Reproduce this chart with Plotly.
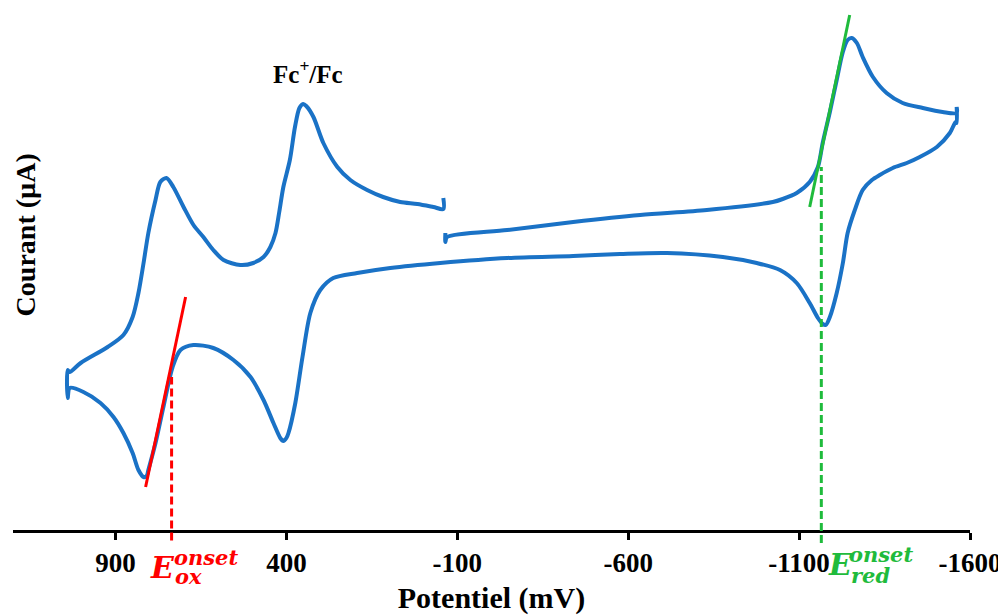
import plotly.graph_objects as go

# Potential (mV) and current (arbitrary µA units), in scan order
potential_mV = [
    # upper-left branch (oxidation side), from ~-60 mV towards +1040 mV
    -59, -59, -30, 17, 67, 117, 164, 213, 251, 292, 321, 342, 351, 362, 375, 390, 409, 421,
    432, 447, 467, 497, 535, 584, 614, 643, 672, 701, 731, 751, 769, 783, 804, 818, 833,
    850, 877, 923, 1002, 1034, 1040, 1040,
    # lower branch, from +1040 mV to -1560 mV
    1034, 994, 944, 906, 877, 850, 833, 818, 809, 804, 783, 760, 733, 710, 672, 614, 555,
    505, 467, 438, 418, 409, 400, 394, 374, 353, 330, 301, 263, 193, 96, -50, -246, -439,
    -576, -713, -877, -976, -1044, -1093, -1131, -1155, -1169, -1178, -1190, -1210, -1228,
    -1242, -1263, -1286, -1313, -1336, -1374, -1415, -1453, -1503, -1541, -1558, -1561, -1561,
    # upper-right branch, from -1560 mV back to ~-65 mV
    -1561, -1520, -1462, -1403, -1356, -1316, -1286, -1269, -1254, -1242, -1228, -1210,
    -1190, -1169, -1155, -1131, -1093, -1052, -1023, -830, -635, -439, -246, -70, -65, -65,
]
current_uA = [
    33.2, 32.1, 32.3, 32.6, 32.8, 33.3, 34.0, 35.0, 36.3, 38.7, 41.3, 42.4, 42.6, 42.2, 40.3,
    37.0, 34.3, 31.8, 29.7, 28.3, 27.3, 26.7, 26.5, 27.0, 28.0, 29.3, 30.5, 32.3, 34.3, 35.2,
    34.8, 33.0, 29.7, 26.7, 23.7, 21.3, 19.5, 18.3, 16.7, 15.8, 16.0, 13.2,
    14.2, 13.8, 12.7, 11.3, 9.7, 7.7, 6.0, 5.3, 5.4, 6.0, 8.7, 12.3, 16.3, 18.0, 18.5, 18.2,
    17.0, 15.3, 13.0, 10.7, 9.2, 8.9, 9.2, 9.7, 12.7, 17.3, 21.7, 24.0, 25.2, 25.7, 26.2,
    26.7, 27.2, 27.4, 27.6, 27.7, 27.3, 26.7, 26.0, 24.7, 22.7, 21.2, 20.6, 20.5, 21.3, 23.7,
    26.7, 29.7, 32.0, 34.0, 35.0, 35.5, 36.2, 36.7, 37.3, 38.3, 39.7, 40.8, 40.7, 42.3,
    41.7, 41.8, 42.2, 42.7, 43.7, 45.3, 47.3, 48.7, 49.2, 49.0, 47.8, 45.0, 41.8, 38.7, 36.3,
    34.8, 33.7, 33.1, 32.8, 32.0, 31.5, 30.8, 30.0, 29.3, 28.8, 29.7,
]

# Onset construction lines
ox_tangent_mV = [812, 695]
ox_tangent_uA = [4.3, 23.3]
ox_onset_mV = 736
ox_onset_top_uA = 15.3
red_tangent_mV = [-1131, -1248]
red_tangent_uA = [32.3, 51.5]
red_onset_mV = -1165
red_onset_top_uA = 36.3

tick_values = [900, 400, -100, -600, -1100, -1600]
tick_labels = ["900", "400", "-100", "-600", "-1100", "-1600"]

x_range = [1200, -1600]
y_range = [0, 52.2]

BLUE = "#1a72c6"
RED = "#ff0000"
GREEN = "#1fbb3c"
SERIF = "Liberation Serif"

fig = go.Figure()
fig.add_trace(go.Scatter(
    x=potential_mV, y=current_uA, mode="lines",
    line=dict(color=BLUE, width=4, shape="spline", smoothing=0.8),
    showlegend=False, hoverinfo="skip",
))
fig.add_trace(go.Scatter(
    x=ox_tangent_mV, y=ox_tangent_uA, mode="lines",
    line=dict(color=RED, width=3), showlegend=False,
))
fig.add_trace(go.Scatter(
    x=red_tangent_mV, y=red_tangent_uA, mode="lines",
    line=dict(color=GREEN, width=3), showlegend=False,
))

def paper_y(v):
    return (v - y_range[0]) / (y_range[1] - y_range[0])

# dashed vertical onset markers (extend slightly below the axis)
fig.add_shape(type="line", xref="x", yref="paper", x0=ox_onset_mV, x1=ox_onset_mV,
              y0=-0.02, y1=paper_y(ox_onset_top_uA),
              line=dict(color=RED, width=3, dash="8px,4px"))
fig.add_shape(type="line", xref="x", yref="paper", x0=red_onset_mV, x1=red_onset_mV,
              y0=-0.025, y1=paper_y(red_onset_top_uA),
              line=dict(color=GREEN, width=3, dash="8px,4px"))

# Fc+/Fc label
fig.add_annotation(x=336, y=45.8, xref="x", yref="y", showarrow=False,
                   text="<b>Fc<sup>+</sup>/Fc</b>",
                   font=dict(family=SERIF, size=25, color="black"))

EFONT = "DejaVu Serif"
def onset_label(xE, xs, xsub, yE, ysup, ysub, sub, color):
    fig.add_annotation(x=xE, y=yE, xref="x", yref="paper", xanchor="left", yanchor="middle",
                       showarrow=False, text="<b><i>E</i></b>",
                       font=dict(family=EFONT, size=30, color=color))
    fig.add_annotation(x=xs, y=ysup, xref="x", yref="paper", xanchor="left", yanchor="middle",
                       showarrow=False, text="<b><i>onset</i></b>",
                       font=dict(family=EFONT, size=21, color=color))
    fig.add_annotation(x=xsub, y=ysub, xref="x", yref="paper", xanchor="left", yanchor="middle",
                       showarrow=False, text="<b><i>" + sub + "</i></b>",
                       font=dict(family=EFONT, size=21, color=color))

onset_label(805, 736, 733, -0.0718, -0.0529, -0.0893, "ox", RED)
onset_label(-1180, -1240, -1246, -0.0661, -0.0471, -0.0874, "red", GREEN)

# y-axis title as rotated annotation
fig.add_annotation(x=0.0129, y=0.565, xref="paper", yref="paper", showarrow=False,
                   xanchor="center", yanchor="middle",
                   text="<b>Courant (µA)</b>", textangle=-90,
                   font=dict(family=SERIF, size=28, color="black"))

fig.update_layout(
    width=998, height=607,
    margin=dict(l=5, r=36, t=0, b=85),
    paper_bgcolor="white", plot_bgcolor="white",
    xaxis=dict(
        range=x_range, tickvals=tick_values,
        ticktext=["<b>" + t + "</b>" for t in tick_labels],
        showgrid=False, zeroline=False, showline=True, linecolor="black", linewidth=3,
        ticks="outside", ticklen=7, tickwidth=3, tickcolor="black",
        tickfont=dict(family=SERIF, size=27, color="black"),
        title=dict(text="<b>Potentiel (mV)</b>", font=dict(family=SERIF, size=30, color="black"),
                   standoff=10),
        automargin=False,
    ),
    yaxis=dict(range=y_range, showgrid=False, zeroline=False, showline=False,
               showticklabels=False, ticks="", automargin=False),
)

fig.write_html("out.html")
